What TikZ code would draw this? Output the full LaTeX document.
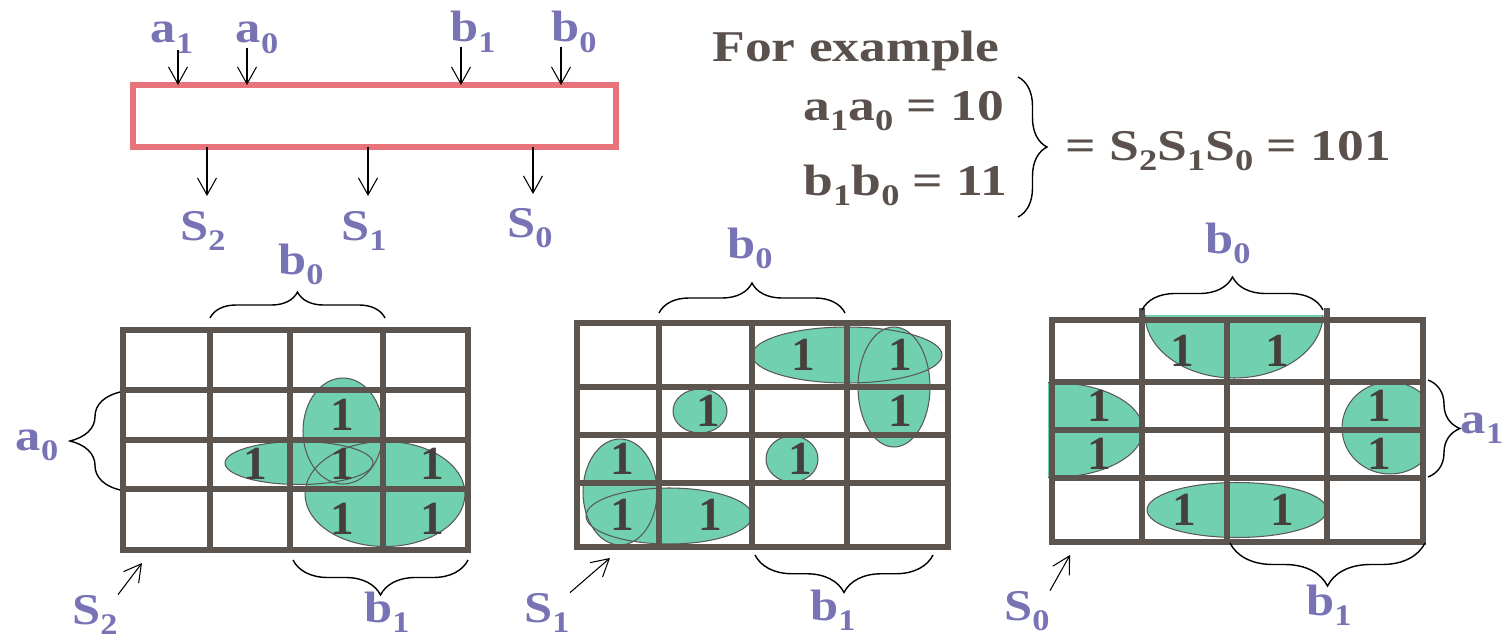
\documentclass[tikz,border=0pt]{standalone}
\usepackage{fontspec}
\setmainfont{Liberation Serif}
\usepackage{graphicx}
\usetikzlibrary{arrows.meta,decorations.pathreplacing,positioning}
\definecolor{lblc}{HTML}{7873B4}
\definecolor{eqc}{HTML}{5A504C}
\definecolor{gridc}{HTML}{5C544E}
\definecolor{boxc}{HTML}{E8737B}
\definecolor{grn}{HTML}{70D0B0}
\definecolor{onec}{HTML}{45403C}
\newcommand{\ix}[1]{\raisebox{-6pt}{\fontsize{17}{17}\selectfont #1}}
% loops of the three maps: centre x / centre y / x radius / y radius
\newcommand{\grpA}{343/431/0.80/1.06, 299/463/1.48/0.43, 385/494/1.60/1.05}
\newcommand{\grpB}{847/355/1.90/0.56, 894/387/0.72/1.20, 700/411/0.54/0.44, 792/459/0.52/0.46, 620/492/0.74/1.06, 669/516/1.66/0.56}

\begin{document}
\begin{tikzpicture}[x=0.02cm, y=-0.02cm,
  lbl/.style={font=\fontsize{25}{25}\selectfont\bfseries, text=lblc, xscale=1.15, anchor=base, inner sep=0pt},
  eq/.style={font=\fontsize{25}{25}\selectfont\bfseries, text=eqc, xscale=1.22, anchor=base west, inner sep=0pt},
  one/.style={font=\fontsize{27}{27}\selectfont\bfseries, text=onec, inner sep=0pt},
  blk/.style={rectangle, draw=boxc, line width=0.13cm, fill=white, minimum width=9.66cm, minimum height=1.24cm, inner sep=0pt, outer sep=0pt},
  arr/.style={-{Straight Barb[length=3.4mm, width=3.8mm]}, line width=0.6pt},
  kgrid/.style={draw=gridc, line width=0.12cm, line cap=rect},
  grp/.style={fill=grn, draw=black!65, line width=0.6pt},
  brc/.style={decorate, decoration={brace, amplitude=#1}, line width=0.8pt}
]
  \useasboundingbox (0,0) rectangle (1507,642);

  % adder block
  \node[blk] (add) at (374.5,116) {};
  \node[lbl] (la1) at (172,43) {a\ix{1}};
  \node[lbl] (la0) at (257,43) {a\ix{0}};
  \node[lbl] (lb1) at (473,42) {b\ix{1}};
  \node[lbl] (lb0) at (574,42) {b\ix{0}};
  \coordinate (ia1) at (178,50);
  \coordinate (ia0) at (247,48);
  \coordinate (ib1) at (461,47);
  \coordinate (ib0) at (561,47);
  \foreach \c in {ia1,ia0,ib1,ib0}
    \draw[arr] (\c) -- (\c |- add.north);
  \coordinate (os2) at (207,196);
  \coordinate (os1) at (368,196);
  \coordinate (os0) at (533,194);
  \foreach \c in {os2,os1,os0}
    \draw[arr] (\c |- add.south) -- (\c);
  \node[lbl] (ls2) at (203,240) {S\ix{2}};
  \node[lbl] (ls1) at (364,240) {S\ix{1}};
  \node[lbl] (ls0) at (530,237) {S\ix{0}};

  % example
  \node[eq] (ex)  at (712,62)  {For example};
  \node[eq] (eqa) at (803,120) {a\ix{1}a\ix{0} = 10};
  \node[eq] (eqb) at (803,195) {b\ix{1}b\ix{0} = 11};
  \draw[brc=0.58cm] (1018,77) -- (1018,217);
  \node[eq] (eqs) at (1065,160) {= S\ix{2}S\ix{1}S\ix{0} = 101};

  % map of S2
  \foreach \cx/\cy/\rx/\ry in \grpA
    \fill[grn] (\cx,\cy) ellipse [x radius=\rx cm, y radius=\ry cm];
  \foreach \cx/\cy/\rx/\ry in \grpA
    \draw[grp, fill=none] (\cx,\cy) ellipse [x radius=\rx cm, y radius=\ry cm];
  \foreach \x in {123,210,290,383,468}
    \draw[kgrid] (\x,330) -- (\x,550);
  \foreach \y in {330,390,440,489,550}
    \draw[kgrid] (123,\y) -- (468,\y);
  \foreach \x/\y [count=\i] in {342/415, 255/464, 342/464, 432/464, 342/519, 432/519}
    \node[one] (pa\i) at (\x,\y) {1};
  \draw[brc=0.52cm] (210,318) -- (385,318);
  \node[lbl] (k2b0) at (301,274) {b\ix{0}};
  \draw[brc=1cm] (120,490) -- (120,392);
  \node[lbl] (k2a0) at (37,450) {a\ix{0}};
  \draw[brc=0.7cm] (468,560) -- (293,560);
  \node[lbl] (k2b1) at (387,622) {b\ix{1}};
  \node[lbl] (k2s) at (95,624) {S\ix{2}};
  \coordinate (t2) at (142,563);
  \draw[arr] (k2s.north east) -- (t2);

  % map of S1
  \foreach \cx/\cy/\rx/\ry in \grpB
    \fill[grn] (\cx,\cy) ellipse [x radius=\rx cm, y radius=\ry cm];
  \foreach \cx/\cy/\rx/\ry in \grpB
    \draw[grp, fill=none] (\cx,\cy) ellipse [x radius=\rx cm, y radius=\ry cm];
  \foreach \x in {577,659,752,847,948}
    \draw[kgrid] (\x,323) -- (\x,547);
  \foreach \y in {323,387,435,483,547}
    \draw[kgrid] (577,\y) -- (948,\y);
  \foreach \x/\y [count=\i] in {803/355, 900/355, 708/411, 900/411, 622/459, 800/459, 622/515, 710/515}
    \node[one] (pb\i) at (\x,\y) {1};
  \draw[brc=0.6cm] (659,313) -- (845,313);
  \node[lbl] (k1b0) at (750,258) {b\ix{0}};
  \draw[brc=0.75cm] (933,555) -- (755,555);
  \node[lbl] (k1b1) at (833,620) {b\ix{1}};
  \node[lbl] (k1s) at (547,622) {S\ix{1}};
  \coordinate (t1) at (610,558);
  \draw[arr] (k1s.north east) -- (t1);

  % map of S0
  \begin{scope}
    \clip (1000,315) rectangle (1500,400);
    \filldraw[grp] (1234,314) ellipse [x radius=1.78cm, y radius=1.28cm];
  \end{scope}
  \begin{scope}
    \clip (1048,300) rectangle (1200,500);
    \filldraw[grp] (1052,430) ellipse [x radius=1.82cm, y radius=0.95cm];
  \end{scope}
  \begin{scope}
    \clip (1300,300) rectangle (1424,500);
    \filldraw[grp] (1390,428) ellipse [x radius=0.96cm, y radius=0.92cm];
  \end{scope}
  \filldraw[grp] (1237,510) ellipse [x radius=1.8cm, y radius=0.55cm];
  \foreach \x/\t in {1052/320,1142/311,1227/320,1327/311,1423/320}
    \draw[kgrid] (\x,\t) -- (\x,542);
  \foreach \y in {320,382,430,478,542}
    \draw[kgrid] (1052,\y) -- (1423,\y);
  \foreach \x/\y [count=\i] in {1182/351, 1277/351, 1099/406, 1099/454, 1379/406, 1379/454, 1184/510, 1282/510}
    \node[one] (pc\i) at (\x,\y) {1};
  \draw[brc=0.66cm] (1142,310) -- (1323,310);
  \node[lbl] (k0b0) at (1228,253) {b\ix{0}};
  \draw[brc=0.64cm] (1428,380) -- (1428,477);
  \node[lbl] (k0a1) at (1482,433) {a\ix{1}};
  \draw[brc=0.86cm] (1425,543) -- (1230,543);
  \node[lbl] (k0b1) at (1329,615) {b\ix{1}};
  \node[lbl] (k0s) at (1027,620) {S\ix{0}};
  \coordinate (t0) at (1070,555);
  \draw[arr] (k0s.north east) -- (t0);
\end{tikzpicture}
\end{document}
